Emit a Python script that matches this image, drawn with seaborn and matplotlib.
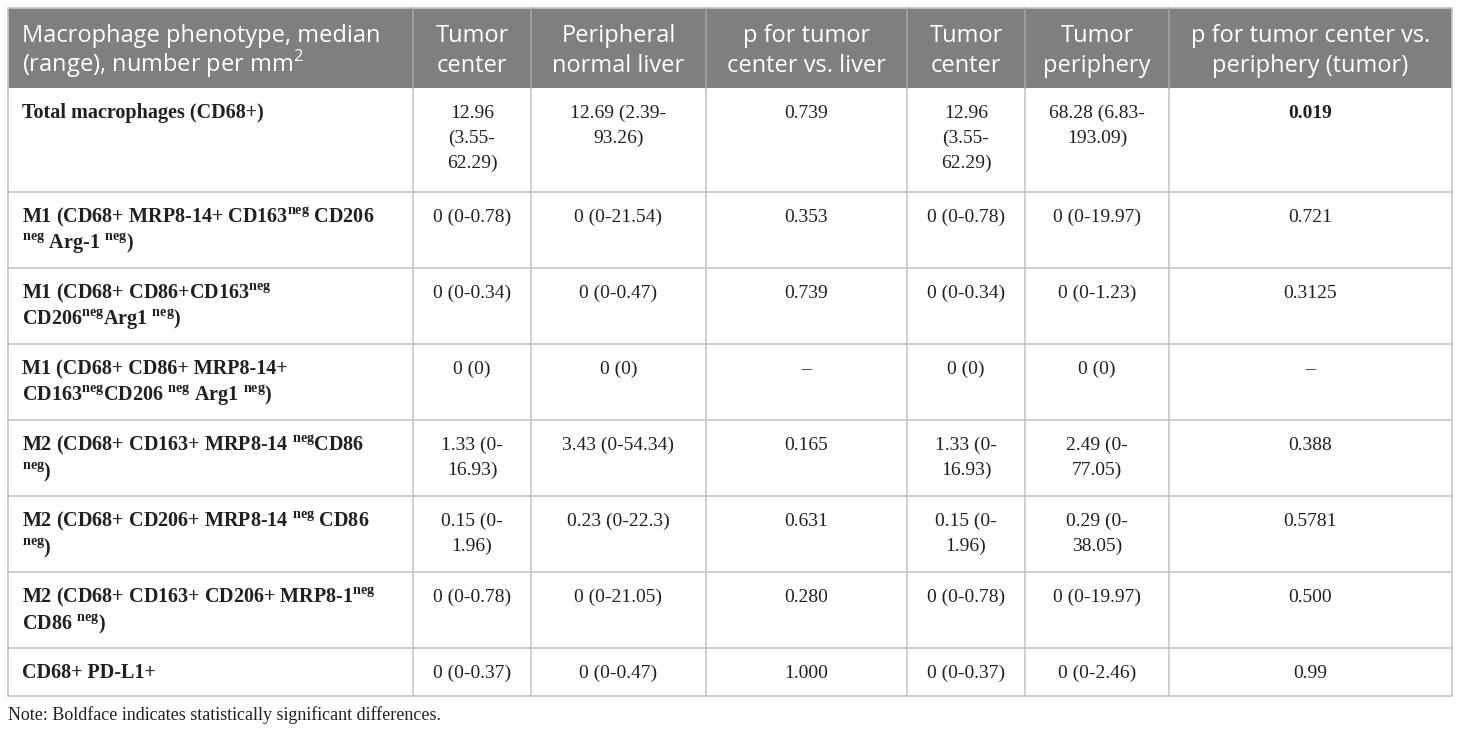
import matplotlib
matplotlib.use("Agg")
import matplotlib.pyplot as plt
from matplotlib.patches import Rectangle
import seaborn as sns

# ── Données du tableau ─────────────────────────────────────
headers = [
    "Macrophage phenotype, median\n(range), number per mm$^{\\mathrm{2}}$",
    "Tumor\ncenter",
    "Peripheral\nnormal liver",
    "p for tumor\ncenter vs. liver",
    "Tumor\ncenter",
    "Tumor\nperiphery",
    "p for tumor center vs.\nperiphery (tumor)",
]
NEG = "$^{\\mathbf{neg}}$"
phenotypes = [
    "Total macrophages (CD68+)",
    f"M1 (CD68+ MRP8-14+ CD163{NEG} CD206\n{NEG} Arg-1 {NEG})",
    f"M1 (CD68+ CD86+CD163{NEG}\nCD206{NEG}Arg1 {NEG})",
    f"M1 (CD68+ CD86+ MRP8-14+\nCD163{NEG}CD206 {NEG} Arg1 {NEG})",
    f"M2 (CD68+ CD163+ MRP8-14 {NEG}CD86\n{NEG})",
    f"M2 (CD68+ CD206+ MRP8-14 {NEG} CD86\n{NEG})",
    f"M2 (CD68+ CD163+ CD206+ MRP8-1{NEG}\nCD86 {NEG})",
    "CD68+ PD-L1+",
]
tumor_center = ["12.96\n(3.55-\n62.29)", "0 (0-0.78)", "0 (0-0.34)", "0 (0)",
                "1.33 (0-\n16.93)", "0.15 (0-\n1.96)", "0 (0-0.78)", "0 (0-0.37)"]
peripheral_liver = ["12.69 (2.39-\n93.26)", "0 (0-21.54)", "0 (0-0.47)", "0 (0)",
                    "3.43 (0-54.34)", "0.23 (0-22.3)", "0 (0-21.05)", "0 (0-0.47)"]
p_center_liver = ["0.739", "0.353", "0.739", "–", "0.165", "0.631", "0.280", "1.000"]
tumor_center_2 = ["12.96\n(3.55-\n62.29)", "0 (0-0.78)", "0 (0-0.34)", "0 (0)",
                  "1.33 (0-\n16.93)", "0.15 (0-\n1.96)", "0 (0-0.78)", "0 (0-0.37)"]
tumor_periphery = ["68.28 (6.83-\n193.09)", "0 (0-19.97)", "0 (0-1.23)", "0 (0)",
                   "2.49 (0-\n77.05)", "0.29 (0-\n38.05)", "0 (0-19.97)", "0 (0-2.46)"]
p_center_periphery = ["0.019", "0.721", "0.3125", "–", "0.388", "0.5781", "0.500", "0.99"]
note = "Note: Boldface indicates statistically significant differences."

columns = [phenotypes, tumor_center, peripheral_liver, p_center_liver,
           tumor_center_2, tumor_periphery, p_center_periphery]
p_columns = [3, 6]

# ── Mise en page ───────────────────────────────────────────
col_edges = [8, 413, 531, 706, 907, 1025, 1169, 1452]
table_top = 8
header_h = 80
HEADER_BG = "#7f7f7f"
GRID = "#c6c6c6"
HEADER_GRID = "#a3a3a3"
TEXT = "#231f20"

sns.set_theme(style="white")
plt.rcParams["font.family"] = ["Liberation Serif", "DejaVu Serif"]
plt.rcParams["mathtext.fontset"] = "custom"
plt.rcParams["mathtext.rm"] = "Open Sans"
plt.rcParams["mathtext.bf"] = "Liberation Serif:bold"

fig = plt.figure(figsize=(14.6, 7.33), dpi=100)
ax = fig.add_axes([0, 0, 1, 1])
ax.set_xlim(0, 1460)
ax.set_ylim(733, 0)
ax.axis("off")


def is_significant(p):
    try:
        return float(p) < 0.05
    except ValueError:
        return False


# hauteur des lignes selon le nombre de lignes de texte
n_rows = len(phenotypes)
row_lines = [max(col[i].count("\n") + 1 for col in columns) for i in range(n_rows)]
row_heights = [20 + 28 * n for n in row_lines]
row_tops = [table_top + header_h]
for h in row_heights[:-1]:
    row_tops.append(row_tops[-1] + h)
table_bottom = row_tops[-1] + row_heights[-1]

# ── En-tête ────────────────────────────────────────────────
ax.add_patch(Rectangle((col_edges[0], table_top), col_edges[-1] - col_edges[0], header_h,
                       facecolor=HEADER_BG, edgecolor="none"))
for j, head in enumerate(headers):
    for k, line in enumerate(head.split("\n")):
        y = table_top + 34 + 30 * k
        if j == 0:
            ax.text(col_edges[0] + 14, y, line, ha="left", va="baseline", color="white",
                    fontsize=17, family="Open Sans")
        else:
            xc = (col_edges[j] + col_edges[j + 1]) / 2
            ax.text(xc, y, line, ha="center", va="baseline", color="white",
                    fontsize=17, family="Open Sans")

# ── Corps du tableau ───────────────────────────────────────
for i in range(n_rows):
    top = row_tops[i]
    for j, col in enumerate(columns):
        cell = col[i]
        bold = j == 0 or (j in p_columns and is_significant(cell))
        step = 27 if j == 0 else 25
        for k, line in enumerate(cell.split("\n")):
            y = top + 30 + step * k
            if j == 0:
                ax.text(col_edges[0] + 14, y, line, ha="left", va="baseline",
                        fontsize=14.5, fontweight="bold", color=TEXT)
            else:
                xc = (col_edges[j] + col_edges[j + 1]) / 2
                ax.text(xc, y, line, ha="center", va="baseline", fontsize=14,
                        fontweight="bold" if bold else "normal", color=TEXT)

# ── Grille ─────────────────────────────────────────────────
for y in row_tops[1:]:
    ax.plot([col_edges[0], col_edges[-1]], [y, y], color=GRID, lw=1.2)
ax.plot([col_edges[0], col_edges[-1]], [table_bottom, table_bottom], color=GRID, lw=1.2)
ax.plot([col_edges[0], col_edges[-1]], [table_top, table_top], color=GRID, lw=1.2)
for j, x in enumerate(col_edges):
    ax.plot([x, x], [table_top + header_h, table_bottom], color=GRID, lw=1.2)
    c = GRID if j in (0, len(col_edges) - 1) else HEADER_GRID
    ax.plot([x, x], [table_top, table_top + header_h], color=c, lw=1.2)

ax.text(col_edges[0], table_bottom + 24, note, ha="left", va="baseline",
        fontsize=13, color=TEXT)

fig.savefig("out.png", dpi=100, facecolor="white")
